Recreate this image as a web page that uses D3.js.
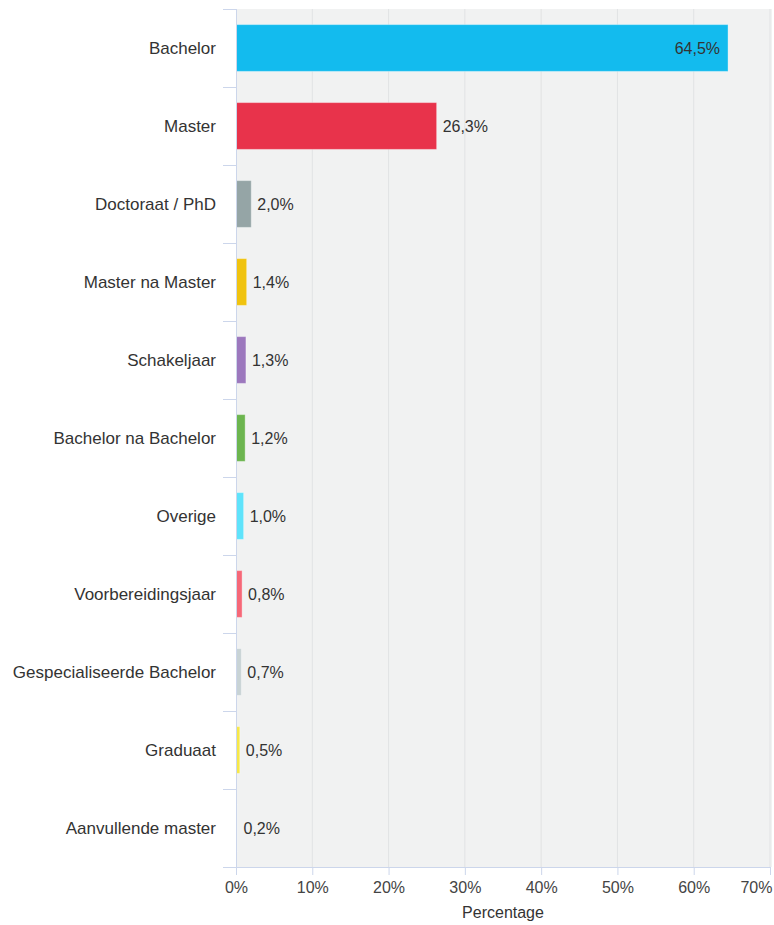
<!DOCTYPE html>
<html>
<head>
<meta charset="utf-8">
<script src="https://cdn.jsdelivr.net/npm/d3@7"></script>
<style>
  body { margin: 0; background: #fff; }
  text { font-family: "Liberation Sans", Arial, sans-serif; }
</style>
</head>
<body>
<svg id="chart"></svg>
<script>
// data
var categories = ["Bachelor", "Master", "Doctoraat / PhD", "Master na Master", "Schakeljaar",
                  "Bachelor na Bachelor", "Overige", "Voorbereidingsjaar", "Gespecialiseerde Bachelor",
                  "Graduaat", "Aanvullende master"];
var percentages = [64.5, 26.3, 2.0, 1.4, 1.3, 1.2, 1.0, 0.8, 0.7, 0.5, 0.2];
var barColors = ["#13bbee", "#e8334b", "#95a5a6", "#f0c30f", "#9c78bd",
                 "#6cb54f", "#5fe3fb", "#f66878", "#c8d3d5", "#f7e848", "#e4e8ea"];
var xTicks = [0, 10, 20, 30, 40, 50, 60, 70];

var W = 774, H = 925;
var margin = {top: 9, right: 4, bottom: 58, left: 236};
var width = 534, height = H - margin.top - margin.bottom;

var svg = d3.select("#chart").attr("width", W).attr("height", H);
var g = svg.append("g").attr("transform", "translate(" + margin.left + "," + margin.top + ")");

var x = d3.scaleLinear().domain([0, 70]).range([0, width]);
var y = d3.scaleBand().domain(categories).range([0, height]).paddingInner(0.4).paddingOuter(0.2);

var nl = d3.formatLocale({decimal: ",", thousands: ".", grouping: [3], currency: ["", "€"]});
var fmt = nl.format(".1f");

// plot background
g.append("rect")
  .attr("x", 0).attr("y", 0)
  .attr("width", W - margin.left - 2).attr("height", height)
  .attr("fill", "#f1f2f2");

// vertical gridlines
g.selectAll("line.grid")
  .data(xTicks.slice(1))
  .enter().append("line")
  .attr("class", "grid")
  .attr("x1", function(d){ return x(d); }).attr("x2", function(d){ return x(d); })
  .attr("y1", 0).attr("y2", height)
  .attr("stroke", "#e1e3e4").attr("stroke-width", 1);

// bars
g.selectAll("rect.bar")
  .data(percentages)
  .enter().append("rect")
  .attr("class", "bar")
  .attr("x", 0)
  .attr("y", function(d, i){ return y(categories[i]); })
  .attr("width", function(d){ return x(d); })
  .attr("height", y.bandwidth())
  .attr("fill", function(d, i){ return barColors[i]; })
  .attr("stroke", "#ffffff").attr("stroke-opacity", 0.35).attr("stroke-width", 1);

// value labels
g.selectAll("text.val")
  .data(percentages)
  .enter().append("text")
  .attr("class", "val")
  .attr("x", function(d){ return d > 50 ? x(d) - 8 : x(d) + 6; })
  .attr("y", function(d, i){ return y(categories[i]) + y.bandwidth() / 2; })
  .attr("dy", "0.35em")
  .attr("text-anchor", function(d){ return d > 50 ? "end" : "start"; })
  .attr("fill", "#333")
  .style("font-size", "16px")
  .text(function(d){ return fmt(d) + "%"; });

// left axis: line, boundary ticks, labels
var axisCol = "#ccd6eb";
var step = y.step();
var bounds = d3.range(categories.length + 1).map(function(k){ return k * step; });

g.append("line")
  .attr("x1", 0.5).attr("x2", 0.5).attr("y1", 0).attr("y2", height)
  .attr("stroke", axisCol).attr("stroke-width", 1);

g.selectAll("line.ytick")
  .data(bounds)
  .enter().append("line")
  .attr("class", "ytick")
  .attr("x1", -13).attr("x2", 0)
  .attr("y1", function(d){ return Math.round(d) + 0.5; })
  .attr("y2", function(d){ return Math.round(d) + 0.5; })
  .attr("stroke", axisCol).attr("stroke-width", 1);

g.selectAll("text.cat")
  .data(categories)
  .enter().append("text")
  .attr("class", "cat")
  .attr("x", -20)
  .attr("y", function(d){ return y(d) + y.bandwidth() / 2; })
  .attr("dy", "0.35em")
  .attr("text-anchor", "end")
  .attr("fill", "#333")
  .style("font-size", "17px")
  .text(function(d){ return d; });

// bottom axis
var xAxis = g.append("g")
  .attr("transform", "translate(0," + height + ")")
  .call(d3.axisBottom(x).tickValues(xTicks).tickSize(8).tickPadding(7)
        .tickFormat(function(d){ return d + "%"; }));

xAxis.select(".domain").attr("stroke", axisCol);
xAxis.selectAll(".tick line").attr("stroke", axisCol);
xAxis.selectAll(".tick text")
  .attr("fill", "#444")
  .style("font-size", "16px")
  .style("font-family", "'Liberation Sans', Arial, sans-serif");
xAxis.selectAll(".tick text")
  .filter(function(d){ return d === 70; })
  .attr("text-anchor", "end")
  .attr("x", 2);

g.append("text")
  .attr("x", width / 2)
  .attr("y", height + 51)
  .attr("text-anchor", "middle")
  .attr("fill", "#333")
  .style("font-size", "16px")
  .text("Percentage");
</script>
</body>
</html>
